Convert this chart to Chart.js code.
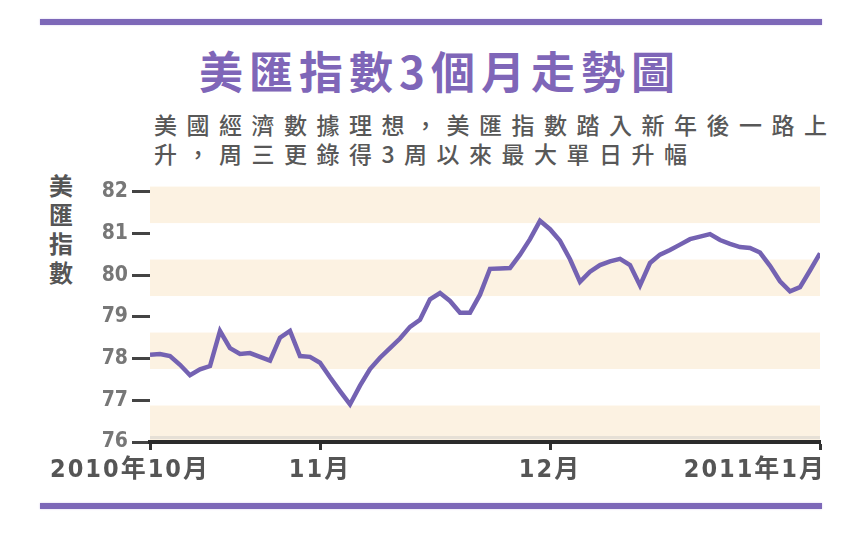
<!DOCTYPE html>
<html>
<head>
<meta charset="utf-8">
<script src="https://cdn.jsdelivr.net/npm/chart.js@4.4.1/dist/chart.umd.min.js"></script>
<style>
    html, body { margin: 0; padding: 0; background: #fff; }
    #page { position: relative; width: 860px; height: 540px; overflow: hidden; }
    .rule { position: absolute; left: 40px; width: 782px; height: 6px; background: #7d68b8; box-shadow: 0 0 2px #cfc4ea; }
    #title { position: absolute; left: 199px; top: 44px; font: bold 44px "Noto Sans CJK TC", sans-serif; letter-spacing: 6px; color: #7f66b8; line-height: 52px; white-space: nowrap; }
    #subtitle { position: absolute; left: 154px; top: 110px; font: 500 23px "Noto Sans CJK TC", sans-serif; letter-spacing: 9.5px; color: #585858; line-height: 29px; white-space: nowrap; }
    #ytitle { position: absolute; left: 48px; top: 170px; width: 26px; font: bold 24px "Noto Sans CJK TC", sans-serif; line-height: 29px; color: #555; text-align: center; word-break: break-all; }
    #chartBox { position: absolute; left: 0; top: 170px; width: 860px; height: 320px; }
</style>
</head>
<body>
<div id="page">
    <div class="rule" style="top:19px"></div>
    <div id="title">美匯指數3個月走勢圖</div>
    <div id="subtitle">美國經濟數據理想，美匯指數踏入新年後一路上<br>升，周三更錄得3周以來最大單日升幅</div>
    <div id="ytitle">美匯指數</div>
    <div id="chartBox"><canvas id="usdChart"></canvas></div>
    <div class="rule" style="top:503px"></div>
</div>
<script>
    // 美匯指數, daily closes (Oct 2010 - mid Jan 2011)
    const usdIndex = [
        78.09, 78.11, 78.06, 77.85, 77.60, 77.74, 77.82, 78.66, 78.25, 78.11,
        78.13, 78.04, 77.95, 78.50, 78.66, 78.06, 78.04, 77.90, 77.55, 77.22,
        76.90, 77.35, 77.75, 78.02, 78.25, 78.48, 78.76, 78.93, 79.42, 79.57,
        79.38, 79.10, 79.10, 79.53, 80.15, 80.16, 80.17, 80.49, 80.86, 81.30,
        81.10, 80.82, 80.38, 79.84, 80.08, 80.24, 80.33, 80.39, 80.24, 79.75,
        80.29, 80.49, 80.60, 80.73, 80.86, 80.92, 80.98, 80.84, 80.75, 80.67,
        80.65, 80.54, 80.22, 79.85, 79.61, 79.71, 80.11, 80.52
    ];
    const monthTickIdx = [0, 17, 40, 67];
    const monthLabels = ['2010年10月', '11月', '12月', '2011年1月'];
    const yTickValues = [76, 77, 78, 79, 80, 81, 82];

    const bandCount = 7;
    const bandColor = '#fcf2e2';

    const bandsPlugin = {
        id: 'bands',
        beforeDraw(chart) {
            const { ctx, chartArea } = chart;
            const h = (chartArea.bottom - chartArea.top) / bandCount;
            ctx.save();
            ctx.fillStyle = bandColor;
            for (let i = 0; i < bandCount; i += 2) {
                ctx.fillRect(chartArea.left, chartArea.top + i * h, chartArea.right - chartArea.left, h);
            }
            ctx.fillStyle = '#e6e0d6';
            ctx.fillRect(chartArea.left, chartArea.bottom - 6, chartArea.right - chartArea.left, 3);
            ctx.restore();
        }
    };

    const monthLabelPlugin = {
        id: 'monthLabels',
        afterDraw(chart) {
            const { ctx, chartArea } = chart;
            const xs = chart.scales.x;
            ctx.save();
            ctx.font = 'bold 25px "Liberation Sans Narrow", "DejaVu Sans Condensed", "Noto Sans CJK TC", sans-serif';
            ctx.fillStyle = '#555';
            ctx.textBaseline = 'middle';
            ctx.letterSpacing = '2px';
            const y = chartArea.bottom + 28;
            monthTickIdx.forEach((v, i) => {
                let x = xs.getPixelForValue(v);
                if (i === 0) {
                    ctx.textAlign = 'center';
                    x -= 20;
                } else if (i === monthTickIdx.length - 1) {
                    ctx.textAlign = 'right';
                    x += 6;
                } else {
                    ctx.textAlign = 'center';
                }
                ctx.fillText(monthLabels[i], x, y);
            });
            ctx.restore();
        }
    };

    function createChart(canvasId, config) {
        const canvas = document.getElementById(canvasId);
        if (!canvas || typeof Chart === 'undefined') return null;
        return new Chart(canvas, config);
    }

    createChart('usdChart', {
        type: 'line',
        data: {
            datasets: [{
                label: '美匯指數',
                data: usdIndex.map((v, i) => ({ x: i, y: v })),
                borderColor: '#7462b2',
                borderWidth: 4.5,
                pointRadius: 0,
                tension: 0,
                fill: false
            }]
        },
        options: {
            responsive: true,
            maintainAspectRatio: false,
            animation: false,
            layout: { padding: { top: 8, right: 40, left: 0, bottom: 0 } },
            plugins: {
                legend: { display: false },
                tooltip: { enabled: false }
            },
            scales: {
                x: {
                    type: 'linear',
                    min: 0,
                    max: usdIndex.length - 1,
                    afterBuildTicks: (scale) => {
                        scale.ticks = monthTickIdx.map((v) => ({ value: v }));
                    },
                    afterFit: (scale) => { scale.height = 48; },
                    ticks: { display: false },
                    grid: {
                        drawOnChartArea: false,
                        drawTicks: true,
                        tickLength: 8,
                        tickColor: '#333',
                        tickWidth: 3
                    },
                    border: { display: true, color: '#2b2b2b', width: 4 }
                },
                y: {
                    min: 76,
                    max: 82.12,
                    afterBuildTicks: (scale) => {
                        scale.ticks = yTickValues.map((v) => ({ value: v }));
                    },
                    afterFit: (scale) => { scale.width = 150; },
                    ticks: {
                        padding: 4,
                        color: '#777',
                        font: { family: '"Liberation Sans Narrow", "DejaVu Sans Condensed", sans-serif', size: 21, weight: 'bold' }
                    },
                    grid: {
                        drawOnChartArea: false,
                        drawTicks: true,
                        tickLength: 18,
                        tickColor: '#444',
                        tickWidth: 3
                    },
                    border: { display: false }
                }
            }
        },
        plugins: [bandsPlugin, monthLabelPlugin]
    });
</script>
</body>
</html>
